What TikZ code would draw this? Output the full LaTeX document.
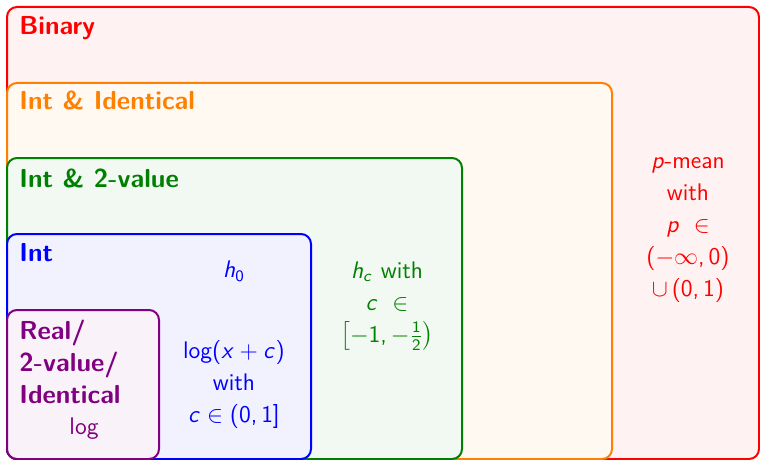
\documentclass[tikz,border=0pt]{standalone}
\usepackage{amsmath}
\renewcommand{\familydefault}{\sfdefault}
% sans serif math, as in the slides
\DeclareSymbolFont{sfup}{OT1}{cmss}{m}{n}
\DeclareSymbolFont{sfit}{OT1}{cmss}{m}{sl}
\DeclareMathSymbol{c}{\mathalpha}{sfit}{`c}
\DeclareMathSymbol{h}{\mathalpha}{sfit}{`h}
\DeclareMathSymbol{p}{\mathalpha}{sfit}{`p}
\DeclareMathSymbol{x}{\mathalpha}{sfit}{`x}
\DeclareMathSymbol{0}{\mathalpha}{sfup}{`0}
\DeclareMathSymbol{1}{\mathalpha}{sfup}{`1}
\DeclareMathSymbol{2}{\mathalpha}{sfup}{`2}
\DeclareMathSymbol{,}{\mathpunct}{sfup}{`,}
\DeclareMathDelimiter{(}{\mathopen}{sfup}{`(}{largesymbols}{"00}
\DeclareMathDelimiter{)}{\mathclose}{sfup}{`)}{largesymbols}{"01}
\DeclareMathDelimiter{[}{\mathopen}{sfup}{`[}{largesymbols}{"02}
\DeclareMathDelimiter{]}{\mathclose}{sfup}{`]}{largesymbols}{"03}
\renewcommand{\log}{\mathop{\textsf{log}}\nolimits}
\tikzset{
  setbox/.style={draw=#1, fill=#1!5, line width=1pt, rounded corners=5pt},
  settitle/.style={anchor=base west, inner sep=0pt, text=#1, align=left,
    font=\fontsize{13}{16}\selectfont\bfseries},
  setmember/.style={inner sep=0pt, text=#1, align=center,
    font=\fontsize{12}{16}\selectfont},
}

\begin{document}
\begin{tikzpicture}[x=0.5pt, y=-0.5pt]
    \useasboundingbox (0,0) rectangle (760,460);
    % nested classes, outermost first
    \foreach \col/\r/\t in {red/759/7, orange/612/83, green!50!black/462/158,
                            blue/311/234, violet/159/310}
        \draw[setbox=\col] (7,459) rectangle (\r,\t);
    % class names
    \node[settitle=red] (binary) at (19,35) {Binary};
    \node[settitle=orange] (intident) at (19,110) {Int \& Identical};
    \node[settitle=green!50!black] (inttwo) at (19,187) {Int \& 2-value};
    \node[settitle=blue] (int) at (19,261) {Int};
    \node[settitle=violet, anchor=west] (real) at (19,362) {Real/\\2-value/\\Identical};
    % members
    \node[setmember=violet] (logf) at (84,429) {$\log$};
    \node[setmember=blue] (hzero) at (234,271) {$h_0$};
    \node[setmember=blue] (logc) at (234,384) {$\log(x+c)$\\with\\$c\in(0,1]$};
    \node[setmember=green!50!black] (hc) at (387,306)
        {$h_c$ with\\$c\ \in$\\$\bigl[-1,-\frac{1}{2}\bigr)$};
    \node[setmember=red] (pmean) at (688,230)
        {$p$-mean\\with\\$p\ \in$\\$(-\infty,0)$\\$\cup\,(0,1)$};
\end{tikzpicture}
\end{document}
